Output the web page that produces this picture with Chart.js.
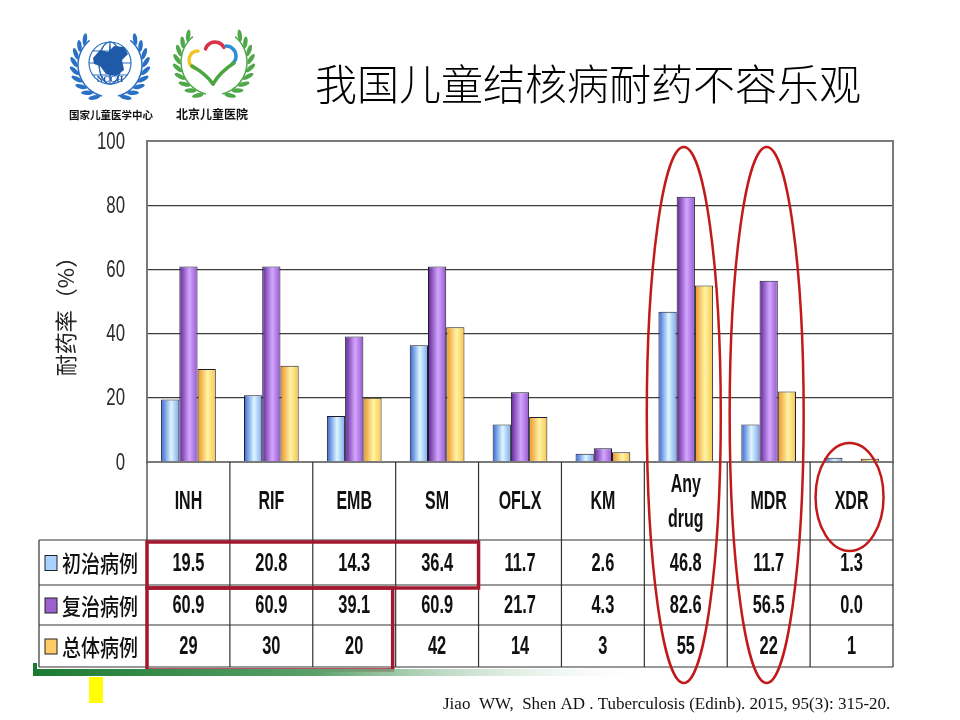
<!DOCTYPE html>
<html>
<head>
<meta charset="utf-8">
<script src="https://cdn.jsdelivr.net/npm/chart.js@4.4.1/dist/chart.umd.min.js"></script>
<style>
  html, body { margin: 0; padding: 0; background: #fff; }
  #wrap { width: 960px; height: 720px; }
</style>
</head>
<body>
<div id="wrap"><canvas id="tbChart" width="960" height="720"></canvas></div>
<script>
const drugLabels = ['INH', 'RIF', 'EMB', 'SM', 'OFLX', 'KM', 'Any drug', 'MDR', 'XDR'];
const seriesNames = ['初治病例', '复治病例', '总体病例'];
const newCaseRates = [19.5, 20.8, 14.3, 36.4, 11.7, 2.6, 46.8, 11.7, 1.3];
const retreatedRates = [60.9, 60.9, 39.1, 60.9, 21.7, 4.3, 82.6, 56.5, 0.0];
const overallRates = [29, 30, 20, 42, 14, 3, 55, 22, 1];
const valueDecimals = [1, 1, 0];
const yTicks = [0, 20, 40, 60, 80, 100];

const seriesData = [newCaseRates, retreatedRates, overallRates];
const CAT_PCT = 0.66;

// left edge / middle / right edge of each bar's shading
const barShades = [
  ['#3463d2', '#dcf7ff', '#7ea6ee'],
  ['#5e2394', '#d4a6ff', '#9457cc'],
  ['#ec9024', '#fff4a4', '#f7c64e']
];
const keyColors = ['#a8d2ff', '#9b5fd0', '#ffcc66'];
const SANS = "'Liberation Sans', Arial, sans-serif";
const CJK = "'Noto Sans CJK SC', sans-serif";

function barGradient(context) {
  const chart = context.chart;
  const xs = chart.scales && chart.scales.x;
  const shade = barShades[context.datasetIndex];
  if (!xs || context.type !== 'data') return shade[1];
  const catW = (xs.right - xs.left) / drugLabels.length;
  const barW = catW * CAT_PCT / seriesData.length;
  const cx = xs.getPixelForValue(context.dataIndex) + (context.datasetIndex - 1) * barW;
  if (!isFinite(cx) || !isFinite(barW) || barW <= 0) return shade[1];
  const g = chart.ctx.createLinearGradient(cx - barW / 2, 0, cx + barW / 2, 0);
  g.addColorStop(0, shade[0]);
  g.addColorStop(0.55, shade[1]);
  g.addColorStop(1, shade[2]);
  return g;
}

// the slide text is squeezed sideways, so draw it scaled
function stretchText(c, txt, x, y, font, sx, sy, align) {
  c.save();
  c.translate(x, y);
  c.scale(sx, sy);
  c.font = font;
  c.textAlign = align || 'center';
  c.textBaseline = 'middle';
  c.fillText(txt, 0, 0);
  c.restore();
}

function drawLaurel(c, cx, cy, r, color) {
  c.save();
  c.fillStyle = color;
  c.strokeStyle = color;
  c.lineWidth = 1.5;
  [-1, 1].forEach(side => {
    c.beginPath();
    for (let k = 0; k <= 20; k++) {
      const a = Math.PI / 2 + side * (0.25 + k * 0.11);
      const px = cx + r * Math.cos(a), py = cy + r * Math.sin(a);
      if (k === 0) c.moveTo(px, py); else c.lineTo(px, py);
    }
    c.stroke();
    for (let k = 0; k < 9; k++) {
      const a = Math.PI / 2 + side * (0.45 + k * 0.24);
      const px = cx + (r + 4) * Math.cos(a), py = cy + (r + 4) * Math.sin(a);
      c.beginPath();
      c.ellipse(px, py, 6, 2.2, a + side * 0.9, 0, Math.PI * 2);
      c.fill();
    }
  });
  c.restore();
}

function drawLogos(c) {
  // NCCH globe
  drawLaurel(c, 110, 65, 32, '#2a70c4');
  c.save();
  c.strokeStyle = '#2d6fc0';
  c.lineWidth = 1.2;
  c.beginPath(); c.arc(110, 63, 21, 0, Math.PI * 2); c.stroke();
  [-12, 0, 12].forEach(d => {
    c.beginPath(); c.ellipse(110, 63, Math.abs(d) === 12 ? 11 : 0.5, 21, 0, 0, Math.PI * 2); c.stroke();
    c.beginPath(); c.moveTo(110 - Math.sqrt(441 - d * d), 63 + d); c.lineTo(110 + Math.sqrt(441 - d * d), 63 + d); c.stroke();
  });
  c.fillStyle = '#1f5aa8';
  c.beginPath();
  c.moveTo(93, 58); c.lineTo(100, 50); c.lineTo(108, 52); c.lineTo(114, 46); c.lineTo(124, 47);
  c.lineTo(128, 54); c.lineTo(122, 60); c.lineTo(124, 70); c.lineTo(116, 76); c.lineTo(106, 74);
  c.lineTo(100, 66); c.lineTo(94, 64); c.closePath(); c.fill();
  c.font = "bold 9px 'Liberation Serif', serif";
  c.textAlign = 'center';
  c.fillText('NCCH', 110, 82);
  c.fillStyle = '#111';
  c.font = "bold 10.5px " + CJK;
  c.fillText('国家儿童医学中心', 111, 119);
  c.restore();

  // BCH heart
  drawLaurel(c, 214, 62, 33, '#4fa84a');
  c.save();
  c.lineWidth = 3.5;
  c.lineCap = 'round';
  const arcs = [
    ['#f2c526', 198, 60, 9, Math.PI * 0.6, Math.PI * 1.5],
    ['#d8334a', 215, 52, 10, Math.PI * 1.1, Math.PI * 1.85],
    ['#2c8ed6', 226, 56, 10, Math.PI * 1.5, Math.PI * 2.3]
  ];
  arcs.forEach(a => {
    c.strokeStyle = a[0];
    c.beginPath(); c.arc(a[1], a[2], a[3], a[4], a[5]); c.stroke();
  });
  c.strokeStyle = '#4aa63f';
  c.beginPath(); c.moveTo(192, 66); c.quadraticCurveTo(206, 74, 213, 84); c.stroke();
  c.beginPath(); c.moveTo(234, 63); c.quadraticCurveTo(220, 72, 213, 84); c.stroke();
  c.fillStyle = '#111';
  c.font = "bold 12px " + CJK;
  c.textAlign = 'center';
  c.fillText('北京儿童医院', 212, 119);
  c.restore();
}

const slidePlugin = {
  id: 'slideDecor',
  beforeDraw(chart) {
    const c = chart.ctx;
    c.save();
    c.fillStyle = '#fff';
    c.fillRect(0, 0, chart.width, chart.height);
    c.fillStyle = '#000';
    c.font = "300 42px " + CJK;
    c.textAlign = 'center';
    c.textBaseline = 'alphabetic';
    c.fillText('我国儿童结核病耐药不容乐观', 588, 100);
    c.restore();
    drawLogos(c);
  },
  afterDraw(chart) {
    const c = chart.ctx;
    const area = chart.chartArea;
    const xs = chart.scales.x;
    const ys = chart.scales.y;
    const n = drugLabels.length;
    const colW = (xs.right - xs.left) / n;
    const edges = [];
    for (let i = 0; i <= n; i++) edges.push(xs.left + i * colW);
    const rows = [area.bottom, area.bottom + 78, area.bottom + 123, area.bottom + 163, area.bottom + 205];
    const keyLeft = 39;

    c.save();
    // plot frame
    c.strokeStyle = '#7a7a7a';
    c.lineWidth = 2;
    c.strokeRect(area.left, area.top, area.right - area.left, area.bottom - area.top);

    // y tick labels, placed by the y scale
    c.fillStyle = '#2a2a2a';
    ys.ticks.forEach(t => {
      stretchText(c, String(t.value), area.left - 22, ys.getPixelForValue(t.value) + 1, '20px ' + SANS, 0.84, 1.2, 'right');
    });

    // data table grid
    c.strokeStyle = '#333';
    c.lineWidth = 1.2;
    c.beginPath();
    edges.forEach(x => { c.moveTo(x, rows[0]); c.lineTo(x, rows[4]); });
    c.moveTo(keyLeft, rows[1]); c.lineTo(keyLeft, rows[4]);
    for (let r = 1; r <= 4; r++) { c.moveTo(keyLeft, rows[r]); c.lineTo(edges[n], rows[r]); }
    c.stroke();

    // headers
    c.fillStyle = '#111';
    const hFont = 'bold 20px ' + SANS;
    const hMid = (rows[0] + rows[1]) / 2;
    drugLabels.forEach((lab, i) => {
      const cx = xs.getPixelForValue(i);
      const parts = lab.split(' ');
      if (parts.length === 1) stretchText(c, lab, cx, hMid + 1, hFont, 0.8, 1.3);
      else parts.forEach((p, k) => stretchText(c, p, cx, hMid + (k === 0 ? -16 : 19), hFont, 0.8, 1.3));
    });

    // values and row keys
    seriesData.forEach((vals, s) => {
      const mid = (rows[s + 1] + rows[s + 2]) / 2;
      vals.forEach((v, i) => {
        stretchText(c, v.toFixed(valueDecimals[s]), xs.getPixelForValue(i), mid + 1, hFont, 0.82, 1.28);
      });
      c.fillStyle = keyColors[s];
      c.fillRect(45, mid - 7, 12, 15);
      c.strokeStyle = '#222';
      c.lineWidth = 1;
      c.strokeRect(45, mid - 7, 12, 15);
      c.fillStyle = '#111';
      stretchText(c, seriesNames[s], 62, mid + 1, '500 19px ' + CJK, 1, 1.18, 'left');
    });

    // y title
    c.save();
    c.translate(66, 311);
    c.rotate(-Math.PI / 2);
    c.fillStyle = '#222';
    c.font = '22px ' + CJK;
    c.textAlign = 'center';
    c.textBaseline = 'middle';
    c.fillText('耐药率（%）', 0, 0);
    c.restore();

    // red highlight boxes
    c.strokeStyle = '#a3182f';
    c.lineWidth = 3.5;
    c.strokeRect(edges[0], rows[1] + 2, edges[4] - edges[0], rows[2] - rows[1] + 1);
    c.strokeRect(edges[0], rows[2] + 3, edges[3] - edges[0] - 3, rows[4] - rows[2]);

    // red ellipses
    c.strokeStyle = '#c21a1a';
    c.lineWidth = 2.5;
    [[6, 415, 37, 268], [7, 415, 37, 268], [8, 497, 34, 54]].forEach(e => {
      c.beginPath();
      c.ellipse(xs.getPixelForValue(e[0]) - 2, e[1], e[2], e[3], 0, 0, Math.PI * 2);
      c.stroke();
    });

    // footer decoration
    const gg = c.createLinearGradient(33, 0, 660, 0);
    gg.addColorStop(0, '#1b7a32');
    gg.addColorStop(0.45, '#5aa06a');
    gg.addColorStop(1, 'rgba(255,255,255,0)');
    c.fillStyle = gg;
    c.fillRect(33, 669, 627, 7);
    c.fillStyle = '#1b7a32';
    c.fillRect(33, 663, 4, 13);
    c.fillStyle = '#ffff00';
    c.fillRect(89, 677, 14, 26);

    // citation
    c.fillStyle = '#111';
    c.font = "17px 'Liberation Serif', 'Times New Roman', serif";
    c.textAlign = 'left';
    c.textBaseline = 'alphabetic';
    c.fillText('Jiao  WW,  Shen AD . Tuberculosis (Edinb). 2015, 95(3): 315-20.', 443, 709);
    c.restore();
  }
};

const ctx = document.getElementById('tbChart').getContext('2d');
new Chart(ctx, {
  type: 'bar',
  data: {
    labels: drugLabels,
    datasets: seriesData.map((vals, i) => ({
      label: seriesNames[i],
      data: vals,
      backgroundColor: barGradient,
      borderColor: '#1c1c2c',
      borderWidth: 1,
      categoryPercentage: CAT_PCT,
      barPercentage: 1
    }))
  },
  options: {
    responsive: false,
    animation: false,
    layout: { padding: { left: 0, top: 141, right: 67, bottom: 258 } },
    plugins: {
      legend: { display: false },
      tooltip: { enabled: false }
    },
    scales: {
      x: { display: false },
      y: {
        min: yTicks[0],
        max: yTicks[yTicks.length - 1],
        ticks: {
          stepSize: yTicks[1] - yTicks[0],
          display: false
        },
        grid: { color: '#3c3c3c', lineWidth: 1.3, drawTicks: false },
        border: { color: '#555', width: 2 },
        afterFit: s => { s.width = 147; }
      }
    }
  },
  plugins: [slidePlugin]
});
</script>
</body>
</html>
